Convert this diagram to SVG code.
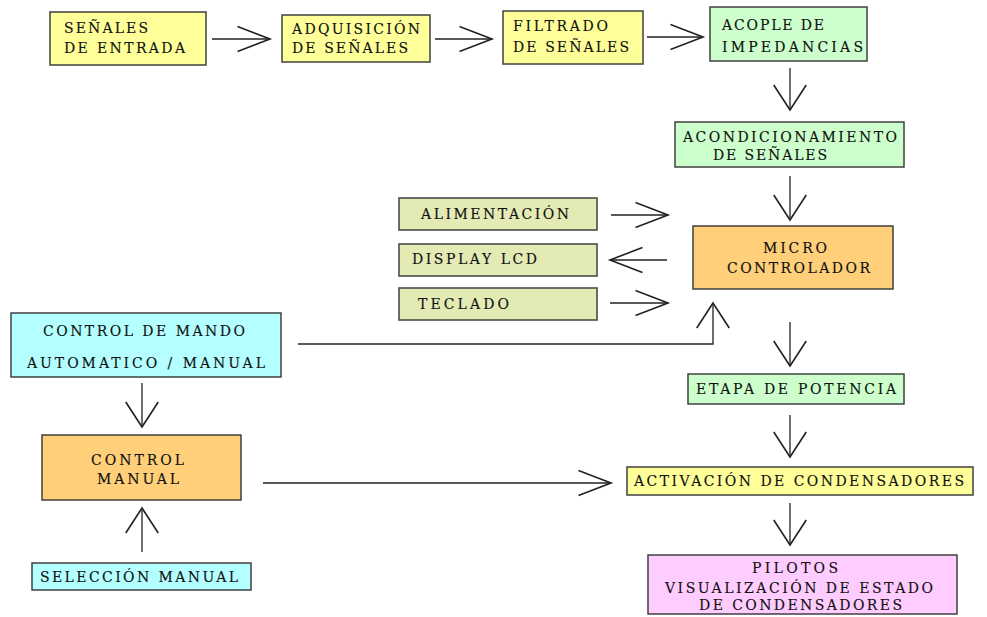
<svg xmlns="http://www.w3.org/2000/svg" width="987" height="617" viewBox="0 0 987 617">
<style>
.b{stroke:#404040;stroke-width:1.5}
.y{fill:#FFFF99}.g{fill:#CCFFCC}.o{fill:#FFCF7A}.l{fill:#E3EAB4}.c{fill:#B4FFFF}.p{fill:#FFCCFF}
text{font-family:"DejaVu Serif","Liberation Serif",serif;font-size:14px;fill:#111;stroke:#111;stroke-width:0.15}
.k path{fill:none;stroke:#222;stroke-width:1.3}
</style>
<defs>
<marker id="mh" markerUnits="userSpaceOnUse" orient="auto" markerWidth="40" markerHeight="40" viewBox="-30 -15 32 30" refX="0" refY="0" overflow="visible"><path d="M-26,-10 L0,0 L-26,10" fill="none" stroke="#222" stroke-width="1.3"/></marker>
<marker id="mv" markerUnits="userSpaceOnUse" orient="auto" markerWidth="40" markerHeight="40" viewBox="-30 -15 32 30" refX="0" refY="0" overflow="visible"><path d="M-20,-13 L0,0 L-20,13" fill="none" stroke="#222" stroke-width="1.3"/></marker>
</defs>
<rect width="987" height="617" fill="#fff"/>
<g id="n1"><rect class="b y" x="50" y="12" width="156" height="53"/><text x="64" y="33" textLength="84" lengthAdjust="spacing">SEÑALES</text><text x="64" y="53" textLength="121" lengthAdjust="spacing">DE ENTRADA</text></g>
<g id="n2"><rect class="b y" x="282" y="15" width="148" height="47"/><text x="292" y="34" textLength="128" lengthAdjust="spacing">ADQUISICIÓN</text><text x="292" y="53" textLength="116" lengthAdjust="spacing">DE SEÑALES</text></g>
<g id="n3"><rect class="b y" x="503" y="11" width="140" height="53"/><text x="513" y="31" textLength="95" lengthAdjust="spacing">FILTRADO</text><text x="513" y="52" textLength="116" lengthAdjust="spacing">DE SEÑALES</text></g>
<g id="n4"><rect class="b g" x="710" y="7" width="157" height="54"/><text x="722" y="30" textLength="102" lengthAdjust="spacing">ACOPLE DE</text><text x="722" y="52" textLength="141" lengthAdjust="spacing">IMPEDANCIAS</text></g>
<g id="n5"><rect class="b g" x="675" y="122" width="229" height="45"/><text x="683" y="142" textLength="214" lengthAdjust="spacing">ACONDICIONAMIENTO</text><text x="713" y="160" textLength="114" lengthAdjust="spacing">DE SEÑALES</text></g>
<g id="n6"><rect class="b l" x="399" y="198" width="198" height="32"/><text x="421" y="219" textLength="148" lengthAdjust="spacing">ALIMENTACIÓN</text></g>
<g id="n7"><rect class="b l" x="399" y="244" width="198" height="32"/><text x="412" y="264" textLength="125" lengthAdjust="spacing">DISPLAY LCD</text></g>
<g id="n8"><rect class="b l" x="399" y="288" width="198" height="32"/><text x="418" y="309" textLength="91" lengthAdjust="spacing">TECLADO</text></g>
<g id="n9"><rect class="b o" x="693" y="226" width="200" height="63"/><text x="763" y="253" textLength="64" lengthAdjust="spacing">MICRO</text><text x="727" y="273" textLength="143" lengthAdjust="spacing">CONTROLADOR</text></g>
<g id="n10"><rect class="b c" x="11" y="313" width="270" height="64"/><text x="43" y="336" textLength="202" lengthAdjust="spacing">CONTROL DE MANDO</text><text x="27" y="368" textLength="238" lengthAdjust="spacing">AUTOMATICO / MANUAL</text></g>
<g id="n11"><rect class="b o" x="42" y="435" width="199" height="65"/><text x="91" y="465" textLength="93" lengthAdjust="spacing">CONTROL</text><text x="97" y="484" textLength="82" lengthAdjust="spacing">MANUAL</text></g>
<g id="n12"><rect class="b c" x="32" y="563" width="219" height="27"/><text x="40" y="582" textLength="198" lengthAdjust="spacing">SELECCIÓN MANUAL</text></g>
<g id="n13"><rect class="b g" x="688" y="374" width="216" height="30"/><text x="696" y="394" textLength="200" lengthAdjust="spacing">ETAPA DE POTENCIA</text></g>
<g id="n14"><rect class="b y" x="627" y="467" width="346" height="28"/><text x="634" y="486" textLength="330" lengthAdjust="spacing">ACTIVACIÓN DE CONDENSADORES</text></g>
<g id="n15"><rect class="b p" x="648" y="555" width="309" height="59"/><text x="752" y="573" textLength="86" lengthAdjust="spacing">PILOTOS</text><text x="665" y="593" textLength="268" lengthAdjust="spacing">VISUALIZACIÓN DE ESTADO</text><text x="699" y="610" textLength="203" lengthAdjust="spacing">DE CONDENSADORES</text></g>
<g id="connectors" class="k">
<path d="M212,39 H270" marker-end="url(#mh)"/>
<path d="M435,39 H492" marker-end="url(#mh)"/>
<path d="M647,37 H703" marker-end="url(#mh)"/>
<path d="M790,68 V110" marker-end="url(#mv)"/>
<path d="M790,176 V220" marker-end="url(#mv)"/>
<path d="M611,215 H668" marker-end="url(#mh)"/>
<path d="M667,260 H610" marker-end="url(#mh)"/>
<path d="M610,303 H668" marker-end="url(#mh)"/>
<path d="M298,344 H713 V303" marker-end="url(#mv)"/>
<path d="M790,322 V366" marker-end="url(#mv)"/>
<path d="M790,415 V457" marker-end="url(#mv)"/>
<path d="M263,483 H611" marker-end="url(#mh)"/>
<path d="M142,383 V427" marker-end="url(#mv)"/>
<path d="M142,552 V508" marker-end="url(#mv)"/>
<path d="M790,503 V545" marker-end="url(#mv)"/>
</g>
</svg>
